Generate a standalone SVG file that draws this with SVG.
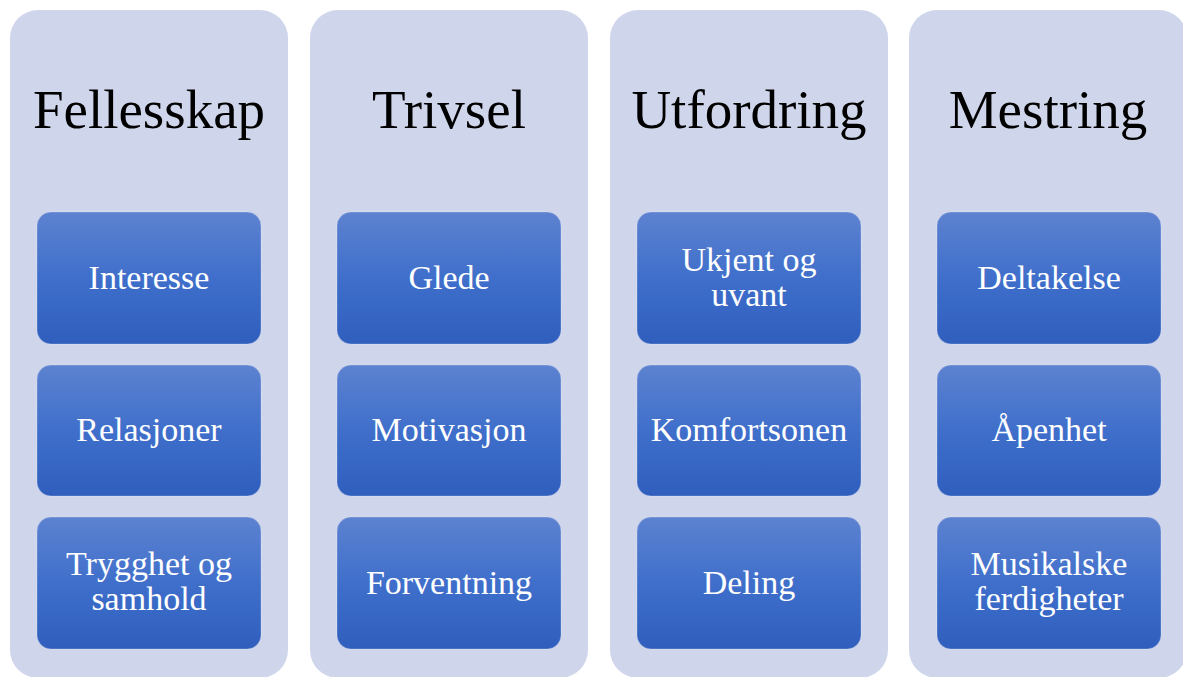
<svg xmlns="http://www.w3.org/2000/svg" width="1183" height="677" viewBox="0 0 1183 677">
<defs>
<linearGradient id="bg" x1="0" y1="0" x2="0" y2="1">
<stop offset="0" stop-color="#5D82D0"/>
<stop offset="0.5" stop-color="#3F6FCB"/>
<stop offset="1" stop-color="#2F5EBD"/>
</linearGradient>
<style>
.col{fill:#CFD5EA;}
.hdr{font-family:"Liberation Serif","Times New Roman",serif;font-size:55px;fill:#000;text-anchor:middle;}
.box{fill:url(#bg);stroke:#FFFFFF;stroke-opacity:0.25;stroke-width:1;}
.lbl{font-family:"Liberation Serif","Times New Roman",serif;font-size:34px;fill:#FFFFFF;text-anchor:middle;}
</style>
</defs>
<rect width="1183" height="677" fill="#FFFFFF"/>
<g id="col-fellesskap">
<rect class="col" x="10" y="10" width="278" height="668" rx="28"/>
<text class="hdr" x="149" y="128">Fellesskap</text>
</g>
<g id="col-trivsel">
<rect class="col" x="310" y="10" width="278" height="668" rx="28"/>
<text class="hdr" x="449" y="128">Trivsel</text>
</g>
<g id="col-utfordring">
<rect class="col" x="610" y="10" width="278" height="668" rx="28"/>
<text class="hdr" x="749" y="128">Utfordring</text>
</g>
<g id="col-mestring">
<rect class="col" x="909" y="10" width="278" height="668" rx="28"/>
<text class="hdr" x="1048" y="128">Mestring</text>
</g>
<g id="n-interesse"><rect class="box" x="37" y="212" width="224" height="132" rx="14"/><text class="lbl" x="149" y="289">Interesse</text></g>
<g id="n-relasjoner"><rect class="box" x="37" y="365" width="224" height="131" rx="14"/><text class="lbl" x="149" y="441">Relasjoner</text></g>
<g id="n-trygghet"><rect class="box" x="37" y="517" width="224" height="132" rx="14"/><text class="lbl" x="149" y="575">Trygghet og</text><text class="lbl" x="149" y="610">samhold</text></g>
<g id="n-glede"><rect class="box" x="337" y="212" width="224" height="132" rx="14"/><text class="lbl" x="449" y="289">Glede</text></g>
<g id="n-motivasjon"><rect class="box" x="337" y="365" width="224" height="131" rx="14"/><text class="lbl" x="449" y="441">Motivasjon</text></g>
<g id="n-forventning"><rect class="box" x="337" y="517" width="224" height="132" rx="14"/><text class="lbl" x="449" y="594">Forventning</text></g>
<g id="n-ukjent"><rect class="box" x="637" y="212" width="224" height="132" rx="14"/><text class="lbl" x="749" y="271">Ukjent og</text><text class="lbl" x="749" y="306">uvant</text></g>
<g id="n-komfortsonen"><rect class="box" x="637" y="365" width="224" height="131" rx="14"/><text class="lbl" x="749" y="441">Komfortsonen</text></g>
<g id="n-deling"><rect class="box" x="637" y="517" width="224" height="132" rx="14"/><text class="lbl" x="749" y="594">Deling</text></g>
<g id="n-deltakelse"><rect class="box" x="937" y="212" width="224" height="132" rx="14"/><text class="lbl" x="1049" y="289">Deltakelse</text></g>
<g id="n-apenhet"><rect class="box" x="937" y="365" width="224" height="131" rx="14"/><text class="lbl" x="1049" y="441">Åpenhet</text></g>
<g id="n-musikalske"><rect class="box" x="937" y="517" width="224" height="132" rx="14"/><text class="lbl" x="1049" y="575">Musikalske</text><text class="lbl" x="1049" y="610">ferdigheter</text></g>
<g id="connectors"/>
</svg>
